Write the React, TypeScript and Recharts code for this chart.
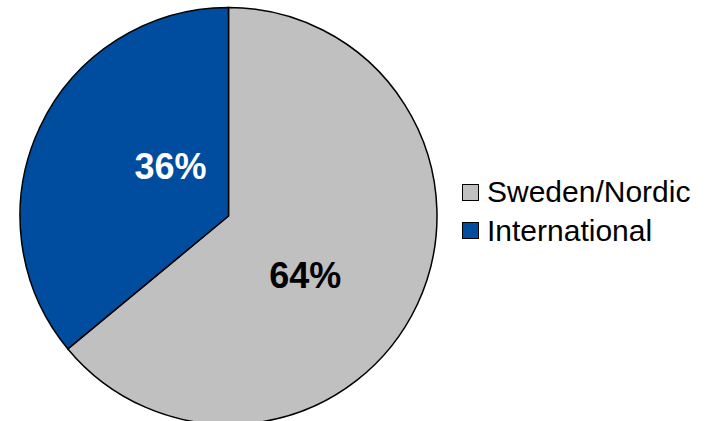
import React from "react";
import { PieChart, Pie, Cell, Legend } from "recharts";

const categories = ["Sweden/Nordic", "International"];
const shares = [64, 36];
const colors = ["#C0C0C0", "#004C9E"];
const labelColors = ["#000000", "#FFFFFF"];

const data = categories.map((name, i) => ({ name, value: shares[i] }));

const RAD = Math.PI / 180;
// label placement (radius fraction of outer radius, angular tweak in degrees)
const labelPlacement = [
  { r: 0.465, dAng: -12.4 },
  { r: 0.365, dAng: -15.2 },
];

const renderLabel = (props: any) => {
  const { cx, cy, midAngle, outerRadius, index, value } = props;
  const p = labelPlacement[index];
  const a = (midAngle + p.dAng) * RAD;
  const x = cx + outerRadius * p.r * Math.cos(a);
  const y = cy - outerRadius * p.r * Math.sin(a);
  return (
    <text
      x={x}
      y={y}
      fill={labelColors[index]}
      textAnchor="middle"
      dominantBaseline="central"
      style={{ fontFamily: "Liberation Sans, Arial, sans-serif", fontWeight: "bold", fontSize: 36 }}
    >
      {`${value}%`}
    </text>
  );
};

const renderLegend = () => (
  <div style={{ fontFamily: "Liberation Sans, Arial, sans-serif", fontSize: 30, color: "#000" }}>
    {categories.map((c, i) => (
      <div key={c} style={{ display: "flex", alignItems: "center", height: 38.5 }}>
        <div
          style={{
            width: 15,
            height: 15,
            background: colors[i],
            border: "1px solid #000",
            marginRight: 8,
          }}
        />
        <span style={{ lineHeight: "38px" }}>{c}</span>
      </div>
    ))}
  </div>
);

export default function App() {
  return (
    <div style={{ position: "absolute", left: 0, top: 0, width: 720, height: 421, background: "#fff" }}>
      <PieChart width={720} height={421} margin={{ top: 0, right: 0, bottom: 0, left: 0 }}>
        <Pie
          data={data}
          dataKey="value"
          nameKey="name"
          cx={228.5}
          cy={216}
          outerRadius={208.5}
          startAngle={90}
          endAngle={-270}
          stroke="#000"
          strokeWidth={1.5}
          label={renderLabel}
          labelLine={false}
          isAnimationActive={false}
        >
          {data.map((d, i) => (
            <Cell key={d.name} fill={colors[i]} />
          ))}
        </Pie>
        <Legend
          content={renderLegend}
          wrapperStyle={{ position: "absolute", left: 462, top: 173, width: 260 }}
        />
      </PieChart>
    </div>
  );
}
